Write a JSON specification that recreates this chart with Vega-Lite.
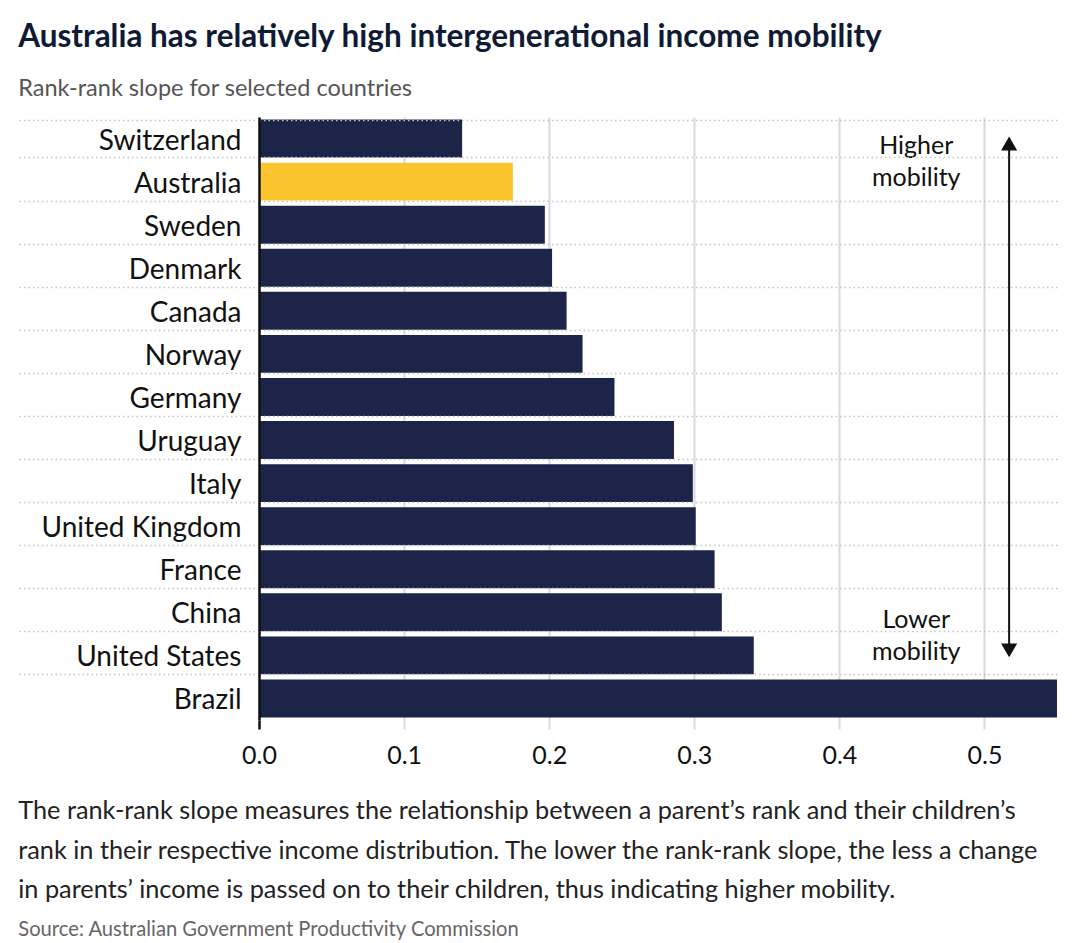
{
  "$schema": "https://vega.github.io/schema/vega-lite/v6.json",
  "background": "white",
  "padding": {"left": 18, "top": 22, "right": 10, "bottom": 5},
  "title": {
    "text": "Australia has relatively high intergenerational income mobility",
    "subtitle": "Rank-rank slope for selected countries",
    "anchor": "start",
    "frame": "bounds",
    "font": "Lato",
    "fontSize": 31.5,
    "fontWeight": "bold",
    "color": "#0f1a35",
    "subtitleFont": "Lato",
    "subtitleFontSize": 23.5,
    "subtitleColor": "#555555",
    "subtitlePadding": 23,
    "offset": 3
  },
  "vconcat": [
    {
      "width": 798,
      "height": 603,
      "title": {
        "text": [
          "The rank-rank slope measures the relationship between a parent’s rank and their children’s",
          "rank in their respective income distribution. The lower the rank-rank slope, the less a change",
          "in parents’ income is passed on to their children, thus indicating higher mobility."
        ],
        "subtitle": "Source: Australian Government Productivity Commission",
        "orient": "bottom",
        "anchor": "start",
        "frame": "bounds",
        "font": "Lato",
        "fontSize": 25.3,
        "fontWeight": "normal",
        "color": "#222222",
        "lineHeight": 39.5,
        "subtitleFont": "Lato",
        "subtitleFontSize": 20.2,
        "subtitleColor": "#666666",
        "subtitlePadding": 17,
        "offset": 31
      },
      "layer": [
        {
          "data": {
            "values": [
              {"country": "Switzerland", "slope": 0.14},
              {"country": "Australia", "slope": 0.175},
              {"country": "Sweden", "slope": 0.197},
              {"country": "Denmark", "slope": 0.202},
              {"country": "Canada", "slope": 0.212},
              {"country": "Norway", "slope": 0.223},
              {"country": "Germany", "slope": 0.245},
              {"country": "Uruguay", "slope": 0.286},
              {"country": "Italy", "slope": 0.299},
              {"country": "United Kingdom", "slope": 0.301},
              {"country": "France", "slope": 0.314},
              {"country": "China", "slope": 0.319},
              {"country": "United States", "slope": 0.341},
              {"country": "Brazil", "slope": 0.55}
            ]
          },
          "mark": {"type": "bar"},
          "encoding": {
            "y": {
              "field": "country",
              "type": "nominal",
              "scale": {
                "domain": ["Switzerland", "Australia", "Sweden", "Denmark", "Canada", "Norway", "Germany", "Uruguay", "Italy", "United Kingdom", "France", "China", "United States", "Brazil"],
                "paddingInner": 0.12,
                "paddingOuter": 0.06
              },
              "axis": {
                "title": null,
                "domain": true,
                "domainColor": "#111111",
                "domainWidth": 2.5,
                "ticks": true,
                "tickBand": "extent",
                "tickSize": 240,
                "tickDash": [1.5, 3],
                "tickColor": {"condition": {"test": "datum.value === 'Brazil' && !datum.extra", "value": "transparent"}, "value": "#c4c4c4"},
                "tickWidth": 1.5,
                "grid": true,
                "gridDash": [1.5, 3],
                "gridColor": {"condition": {"test": "datum.value === 'Brazil' && !datum.extra", "value": "transparent"}, "value": "#c4c4c4"},
                "gridWidth": 1.5,
                "labelPadding": -222,
                "labelOffset": 2.5,
                "labelLimit": 400,
                "labelFont": "Lato",
                "labelFontSize": 28,
                "labelColor": "#111111",
                "zindex": 1
              }
            },
            "x": {
              "field": "slope",
              "type": "quantitative",
              "scale": {"domain": [0, 0.55], "nice": false},
              "axis": {
                "title": null,
                "values": [0, 0.1, 0.2, 0.3, 0.4, 0.5],
                "format": ".1f",
                "grid": true,
                "gridColor": "#d8d9e3",
                "gridWidth": 2,
                "domain": false,
                "ticks": true,
                "tickSize": 9,
                "tickWidth": {"condition": {"test": "datum.value === 0", "value": 2.5}, "value": 2},
                "tickColor": {"condition": {"test": "datum.value === 0", "value": "#111111"}, "value": "#d8d9e3"},
                "labelFlush": false,
                "labelFont": "Lato",
                "labelFontSize": 25,
                "labelColor": "#111111",
                "labelPadding": 14,
                "zindex": 0
              }
            },
            "color": {
              "condition": {"test": "datum.country === 'Australia'", "value": "#fbc52e"},
              "value": "#1c2547"
            }
          }
        },
        {
          "data": {"values": [{"from": "Switzerland", "to": "United States", "pos": 0.517}]},
          "mark": {"type": "rule", "color": "#111111", "strokeWidth": 2},
          "encoding": {
            "x": {"field": "pos", "type": "quantitative"},
            "y": {"field": "from", "type": "nominal"},
            "y2": {"field": "to"}
          }
        },
        {
          "data": {"values": [{"country": "Switzerland", "pos": 0.517}]},
          "mark": {"type": "point", "shape": "triangle-up", "filled": true, "color": "#111111", "size": 260, "opacity": 1, "yOffset": 5},
          "encoding": {
            "x": {"field": "pos", "type": "quantitative"},
            "y": {"field": "country", "type": "nominal"}
          }
        },
        {
          "data": {"values": [{"country": "United States", "pos": 0.517}]},
          "mark": {"type": "point", "shape": "triangle-down", "filled": true, "color": "#111111", "size": 260, "opacity": 1, "yOffset": -5},
          "encoding": {
            "x": {"field": "pos", "type": "quantitative"},
            "y": {"field": "country", "type": "nominal"}
          }
        },
        {
          "data": {"values": [{"country": "Switzerland", "pos": 0.453, "note": "Higher\nmobility"}]},
          "mark": {"type": "text", "font": "Lato", "fontSize": 25, "color": "#111111", "align": "center", "baseline": "alphabetic", "lineBreak": "\n", "lineHeight": 32, "dy": 15},
          "encoding": {
            "x": {"field": "pos", "type": "quantitative"},
            "y": {"field": "country", "type": "nominal"},
            "text": {"field": "note"}
          }
        },
        {
          "data": {"values": [{"country": "United States", "pos": 0.453, "note": "Lower\nmobility"}]},
          "mark": {"type": "text", "font": "Lato", "fontSize": 25, "color": "#111111", "align": "center", "baseline": "alphabetic", "lineBreak": "\n", "lineHeight": 32, "dy": -27},
          "encoding": {
            "x": {"field": "pos", "type": "quantitative"},
            "y": {"field": "country", "type": "nominal"},
            "text": {"field": "note"}
          }
        }
      ]
    }
  ],
  "config": {
    "view": {"stroke": null},
    "concat": {"spacing": 0}
  }
}
